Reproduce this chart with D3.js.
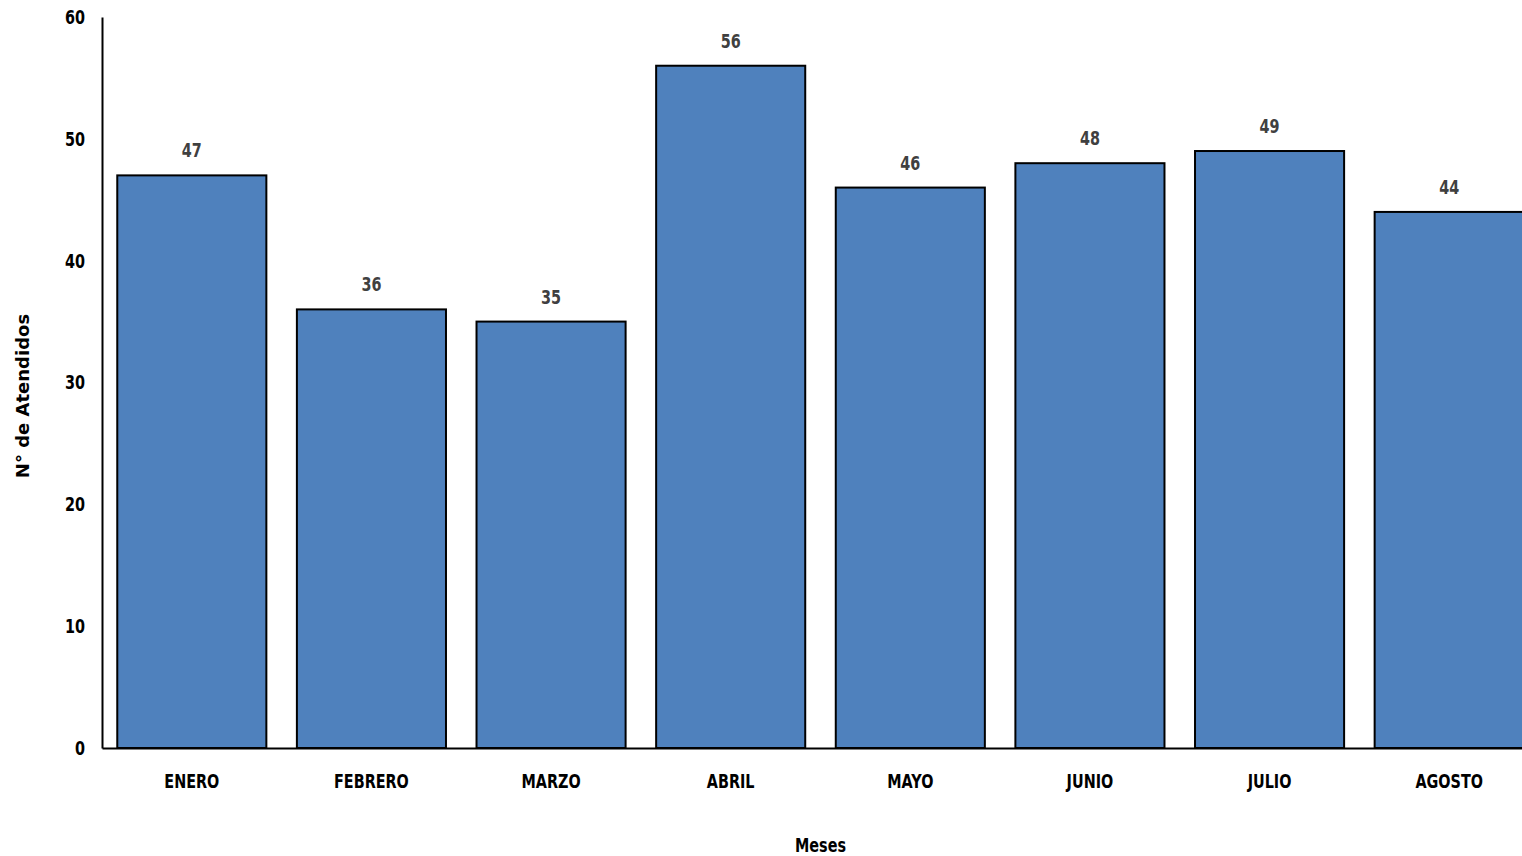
<!DOCTYPE html>
<html><head><meta charset="utf-8">
<script src="https://cdn.jsdelivr.net/npm/d3@7"></script>
<style>
html,body{margin:0;padding:0;background:#fff;overflow:hidden}
svg{display:block}
.cf{font-family:"DejaVu Sans",sans-serif;font-weight:bold}
</style></head><body>
<svg id="c" width="1522" height="856"></svg>
<script>
const categories = ["ENERO","FEBRERO","MARZO","ABRIL","MAYO","JUNIO","JULIO","AGOSTO"];
const values = [47,36,35,56,46,48,49,44];
const yTicks = [0,10,20,30,40,50,60];
const xTitle = "Meses";
const yTitle = "N° de Atendidos";

const svg = d3.select("#c");
const pLeft = 102, pRight = 1539, pTop = 17, pBottom = 748;
const F = 0.72;
function condense(sel){
  sel.each(function(){
    const t = d3.select(this);
    const xx = +(t.attr("x") || 0);
    t.attr("transform", `translate(${xx*(1-F)},0) scale(${F},1)`);
  });
}

const x = d3.scaleBand().domain(categories).range([pLeft, pRight]).paddingInner(0.17).paddingOuter(0.085);
const y = d3.scaleLinear().domain([0,60]).range([pBottom, pTop]);

// bars
svg.append("g").selectAll("rect").data(values).join("rect")
  .attr("x", (d,i)=>x(categories[i]))
  .attr("y", d=>y(d))
  .attr("width", x.bandwidth())
  .attr("height", d=>pBottom - y(d))
  .attr("fill", "#4F81BD")
  .attr("stroke", "#000")
  .attr("stroke-width", 2);

// data labels
svg.append("g").selectAll("text").data(values).join("text")
  .attr("class","cf")
  .attr("x", (d,i)=>x(categories[i]) + x.bandwidth()/2)
  .attr("y", d=>y(d) - 18)
  .attr("text-anchor","middle")
  .attr("font-size", 20)
  .attr("fill", "#404040")
  .text(d=>d)
  .call(condense);

// y axis
const ya = svg.append("g").attr("transform", `translate(${pLeft},0)`)
  .call(d3.axisLeft(y).tickValues(yTicks).tickSize(0).tickPadding(17));
ya.select(".domain").attr("stroke","#000").attr("stroke-width",2);
ya.selectAll("text").attr("class","cf").attr("font-size",20).attr("fill","#000").call(condense);

// x axis
const xa = svg.append("g").attr("transform", `translate(0,${pBottom})`)
  .call(d3.axisBottom(x).tickSize(0).tickPadding(26));
xa.select(".domain").attr("stroke","#000").attr("stroke-width",2);
xa.selectAll("text").attr("class","cf").attr("font-size",20).attr("fill","#000").call(condense);

// titles
svg.append("text").attr("class","cf")
  .attr("x", (pLeft+pRight)/2).attr("y", 852)
  .attr("text-anchor","middle").attr("font-size",20).attr("fill","#000")
  .text(xTitle)
  .call(condense);
svg.append("text")
  .attr("transform", `translate(29,396) rotate(-90)`)
  .attr("text-anchor","middle")
  .attr("font-family","DejaVu Sans, Verdana, sans-serif")
  .attr("font-weight","bold").attr("font-size",18).attr("fill","#000")
  .text(yTitle);
</script>
</body></html>
